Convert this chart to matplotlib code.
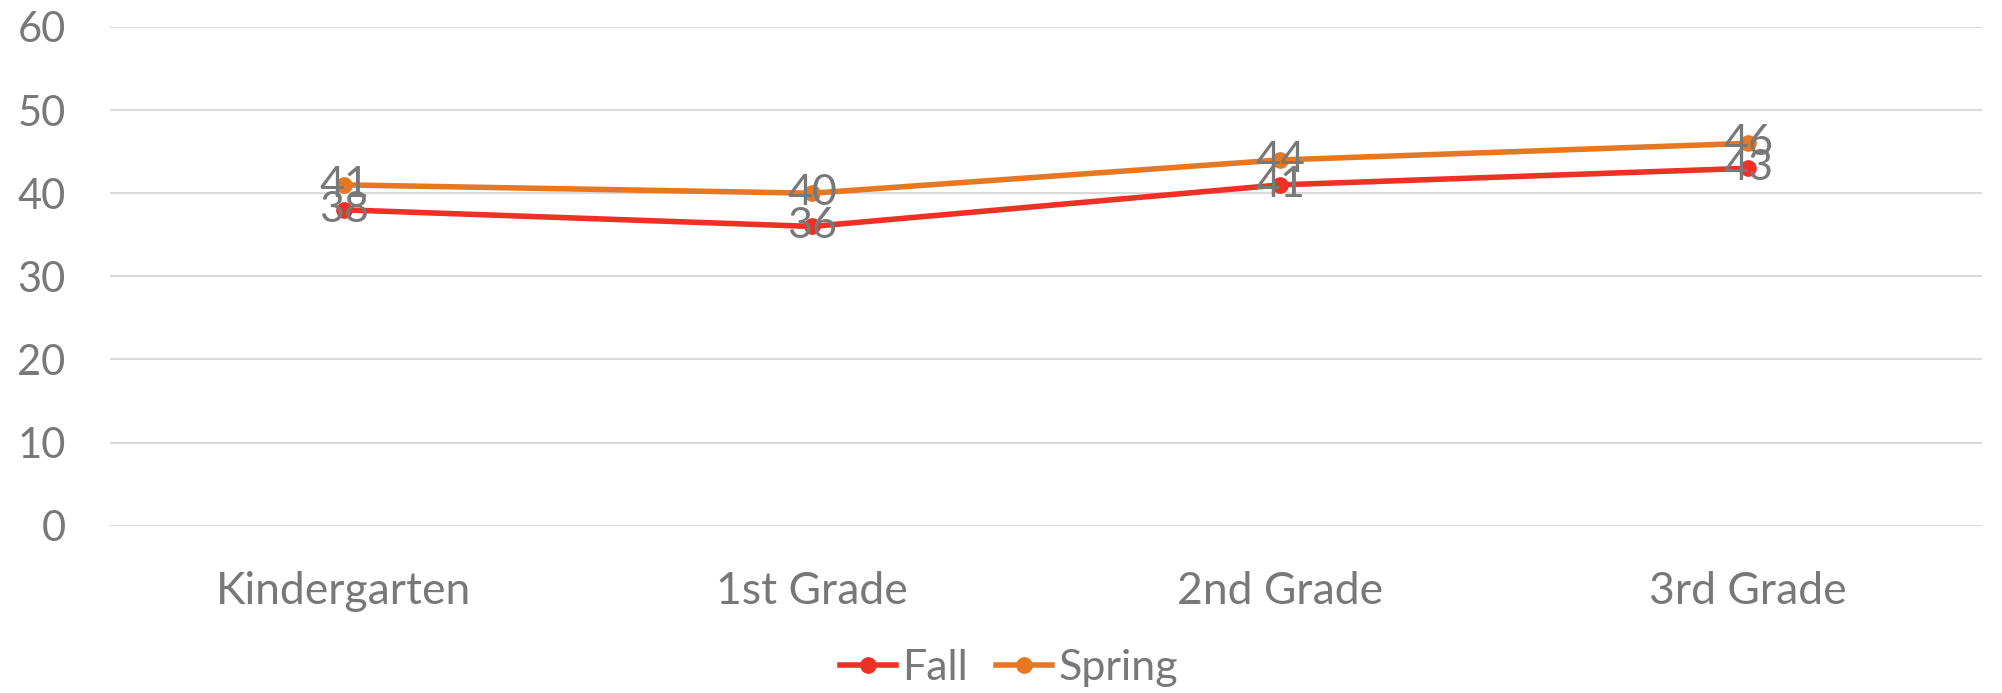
import matplotlib
matplotlib.use("Agg")
import matplotlib.pyplot as plt

categories = ["Kindergarten", "1st Grade", "2nd Grade", "3rd Grade"]
fall = [38, 36, 41, 43]
spring = [41, 40, 44, 46]
yticks = [0, 10, 20, 30, 40, 50, 60]

plt.rcParams['font.family'] = ['Lato', 'DejaVu Sans']
TEXT = '#787878'
RED = '#EE3124'
ORANGE = '#E87722'
GRID = '#D9D9D9'

fig = plt.figure(figsize=(20.02, 6.93), dpi=100)
ax = fig.add_axes([110/2002, 1-525.6/693, 1872/2002, (525.6-27)/693])

x = list(range(len(categories)))
ax.plot(x, fall, color=RED, lw=4.0, marker='o', ms=11, label='Fall', zorder=3)
ax.plot(x, spring, color=ORANGE, lw=4.0, marker='o', ms=11, label='Spring', zorder=3)

for xi, v in zip(x, fall):
    ax.text(xi, v, str(v), ha='center', va='center', fontsize=31, color=TEXT, zorder=4)
for xi, v in zip(x, spring):
    ax.text(xi, v, str(v), ha='center', va='center', fontsize=31, color=TEXT, zorder=4)

ax.set_xlim(-0.5, len(categories) - 0.5)
ax.set_ylim(0, 60)
ax.set_yticks(yticks)
ax.set_xticks(x)
ax.set_xticklabels(categories)
ax.yaxis.grid(True, color=GRID, lw=1.5)
ax.set_axisbelow(True)
for s in ax.spines.values():
    s.set_visible(False)
ax.tick_params(axis='both', length=0, labelcolor=TEXT)
ax.tick_params(axis='y', pad=32, labelsize=30)
ax.tick_params(axis='x', pad=33, labelsize=32)

leg = fig.legend(loc='center', bbox_to_anchor=(1009/2002, 1-668/693), ncol=2, frameon=False,
                 fontsize=31, handlelength=1.3, handletextpad=0.14, columnspacing=0.67,
                 markerscale=1.0)
for t in leg.get_texts():
    t.set_color(TEXT)

fig.savefig('out.png', dpi=100)
